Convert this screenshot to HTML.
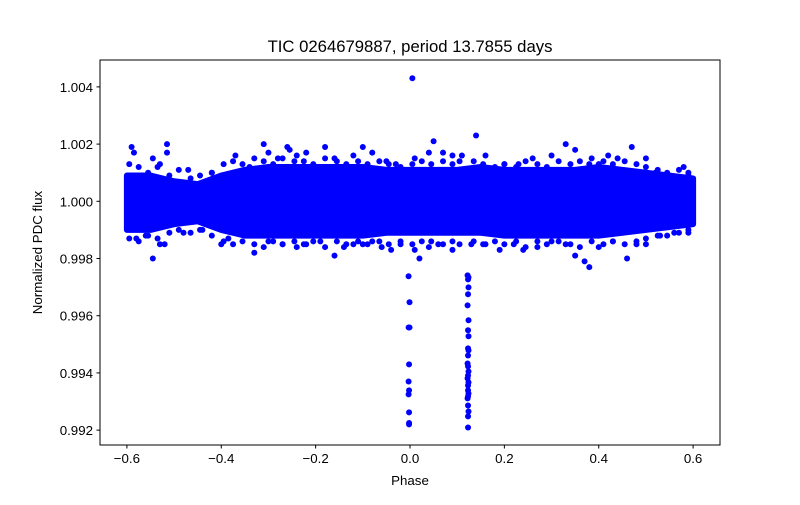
<!DOCTYPE html>
<html><head><meta charset="utf-8"><style>
body{margin:0;background:#fff;}
svg text{font-family:"Liberation Sans","DejaVu Sans",sans-serif;fill:#000;}
</style></head><body>
<svg id="chart" width="800" height="500" xmlns="http://www.w3.org/2000/svg">
<rect width="800" height="500" fill="#fff"/>
<g id="band"></g><g id="pts"></g><g id="axes"></g>
</svg>
<script>
const xTicks=[-0.6,-0.4,-0.2,0.0,0.2,0.4,0.6];
const xTickLabels=["\u22120.6","\u22120.4","\u22120.2","0.0","0.2","0.4","0.6"];
const yTicks=[0.992,0.994,0.996,0.998,1.000,1.002,1.004];
const yTickLabels=["0.992","0.994","0.996","0.998","1.000","1.002","1.004"];
const bandPhase=[-0.6,-0.55,-0.5,-0.45,-0.4,-0.35,-0.3,-0.25,-0.2,-0.15,-0.1,-0.05,0,0.05,0.1,0.15,0.2,0.25,0.3,0.35,0.4,0.45,0.5,0.55,0.6];
const bandUpper=[1.0009,1.0009,1.0007,1.0006,1.0009,1.0011,1.0012,1.0012,1.0012,1.0012,1.0012,1.0011,1.0011,1.0011,1.0011,1.0012,1.0011,1.0011,1.0011,1.0011,1.0012,1.0011,1.0010,1.0009,1.0008];
const bandLower=[0.9990,0.9990,0.9992,0.9993,0.9990,0.9988,0.9988,0.9988,0.9988,0.9988,0.9988,0.9989,0.9989,0.9989,0.9989,0.9989,0.9988,0.9988,0.9988,0.9988,0.9988,0.9989,0.9990,0.9991,0.9992];
const edgePhase=[-0.595,-0.575,-0.555,-0.535,-0.51,-0.49,-0.465,-0.445,-0.42,-0.395,-0.375,-0.355,-0.33,-0.31,-0.29,-0.27,-0.245,-0.225,-0.205,-0.18,-0.155,-0.135,-0.11,-0.09,-0.065,-0.045,-0.02,0.005,0.025,0.045,0.07,0.09,0.105,0.135,0.155,0.18,0.2,0.225,0.245,0.27,0.29,0.315,0.34,0.36,0.385,0.41,0.43,0.455,0.48,0.5,0.525,0.545,0.57,0.59,
-0.595,-0.575,-0.555,-0.535,-0.51,-0.49,-0.465,-0.445,-0.42,-0.395,-0.375,-0.355,-0.33,-0.31,-0.29,-0.27,-0.245,-0.225,-0.205,-0.18,-0.155,-0.135,-0.11,-0.09,-0.065,-0.045,-0.02,0.005,0.025,0.045,0.07,0.09,0.105,0.135,0.155,0.18,0.2,0.225,0.245,0.27,0.29,0.315,0.34,0.36,0.385,0.41,0.43,0.455,0.48,0.5,0.525,0.545,0.57,0.59];
const edgeFlux=[1.0013,1.0012,1.0010,1.0012,1.0009,1.0011,1.0008,1.0009,1.0010,1.0013,1.0014,1.0013,1.0015,1.0014,1.0013,1.0015,1.0014,1.0014,1.0013,1.0015,1.0014,1.0013,1.0014,1.0013,1.0014,1.0013,1.0012,1.0013,1.0014,1.0013,1.0014,1.0013,1.0014,1.0014,1.0013,1.0012,1.0013,1.0012,1.0014,1.0013,1.0012,1.0014,1.0013,1.0014,1.0015,1.0014,1.0013,1.0014,1.0013,1.0012,1.0011,1.0010,1.0011,1.0009,
0.9987,0.9986,0.9988,0.9987,0.9989,0.9990,0.9989,0.9990,0.9988,0.9986,0.9985,0.9986,0.9985,0.9984,0.9986,0.9985,0.9986,0.9985,0.9986,0.9984,0.9986,0.9985,0.9986,0.9985,0.9986,0.9985,0.9986,0.9985,0.9986,0.9986,0.9985,0.9986,0.9985,0.9986,0.9985,0.9986,0.9985,0.9986,0.9984,0.9986,0.9985,0.9986,0.9985,0.9984,0.9986,0.9985,0.9986,0.9985,0.9986,0.9987,0.9988,0.9988,0.9989,0.9989];
const outPhase=[-0.59,-0.585,-0.545,-0.53,-0.515,-0.515,-0.47,-0.42,-0.37,-0.34,-0.31,-0.30,-0.28,-0.26,-0.255,-0.24,-0.22,-0.18,-0.16,-0.12,-0.10,-0.08,-0.05,-0.03,0.01,0.04,0.05,0.07,0.09,0.11,0.14,0.16,0.20,0.23,0.26,0.30,0.33,0.35,0.38,0.40,0.42,0.44,0.47,0.50,0.52,0.55,0.58,0.59,0.005,
-0.58,-0.56,-0.545,-0.53,-0.52,-0.48,-0.44,-0.40,-0.385,-0.35,-0.33,-0.30,-0.27,-0.24,-0.22,-0.19,-0.16,-0.14,-0.12,-0.10,-0.08,-0.06,-0.04,-0.02,0.01,0.02,0.04,0.06,0.09,0.13,0.16,0.19,0.22,0.24,0.27,0.30,0.33,0.35,0.37,0.38,0.40,0.43,0.46,0.48,0.50,0.53,0.56,0.59];
const outFlux=[1.0019,1.0017,1.0015,1.0013,1.0020,1.0017,1.0011,1.0010,1.0016,1.0012,1.0020,1.0017,1.0015,1.0019,1.0018,1.0016,1.0017,1.0019,1.0015,1.0016,1.0019,1.0017,1.0014,1.0013,1.0015,1.0017,1.0021,1.0017,1.0016,1.0016,1.0023,1.0016,1.0013,1.0013,1.0015,1.0016,1.0020,1.0018,1.0013,1.0013,1.0016,1.0015,1.0019,1.0015,1.0010,1.0009,1.0012,1.0010,1.0043,
0.9987,0.9988,0.9980,0.9985,0.9985,0.9989,0.9990,0.9985,0.9987,0.9988,0.9982,0.9986,0.9985,0.9984,0.9985,0.9986,0.9981,0.9984,0.9985,0.9985,0.9986,0.9984,0.9983,0.9985,0.9983,0.9980,0.9984,0.9985,0.9983,0.9985,0.9985,0.9983,0.9985,0.9983,0.9984,0.9986,0.9985,0.9981,0.9979,0.9977,0.9984,0.9986,0.9980,0.9985,0.9985,0.9988,0.9989,0.9990];
const dip1Phase=[-0.003,-0.001,-0.003,-0.001,-0.002,-0.003,-0.002,-0.003,-0.002,-0.002,-0.002];
const dip1Flux=[0.99738,0.99647,0.99559,0.99559,0.99430,0.99370,0.99339,0.99325,0.99262,0.99220,0.99225];
const dip2Phase=[0.122,0.124,0.123,0.124,0.123,0.122,0.124,0.123,0.124,0.123,0.124,0.123,0.122,0.123,0.124,0.123,0.122,0.124,0.123,0.123,0.124,0.123,0.122,0.123,0.124,0.123,0.123];
const dip2Flux=[0.99741,0.99734,0.99727,0.99699,0.99675,0.99636,0.99584,0.99549,0.99528,0.99486,0.99479,0.99461,0.99433,0.99423,0.99405,0.99391,0.99381,0.99367,0.99356,0.99339,0.99328,0.99318,0.99311,0.99286,0.99265,0.99248,0.99209];

const L=100,R=720,T=60,B=445,xmin=-0.657,xmax=0.657,ymin=0.99148,ymax=1.00494;
const X=v=>L+(v-xmin)/(xmax-xmin)*(R-L);
const Y=v=>B-(v-ymin)/(ymax-ymin)*(B-T);
const NS="http://www.w3.org/2000/svg";
function mk(tag,attrs,parent){const e=document.createElementNS(NS,tag);for(const k in attrs)e.setAttribute(k,attrs[k]);parent.appendChild(e);return e;}
const band=document.getElementById('band'),pts=document.getElementById('pts'),ax=document.getElementById('axes');
let d="M"+bandPhase.map((p,i)=>X(p)+","+Y(bandUpper[i])).join(" L");
for(let i=bandPhase.length-1;i>=0;i--)d+=" L"+X(bandPhase[i])+","+Y(bandLower[i]);
d+=" Z";
const bp=mk('path',{d:d,fill:'#0000ff',stroke:'#0000ff','stroke-width':6,'stroke-linejoin':'round'},band);


function dots(ps,fs,name){for(let i=0;i<ps.length;i++){const c=mk('circle',{cx:X(ps[i]),cy:Y(fs[i]),r:3,fill:'#0000ff'},pts);

}}
dots(edgePhase,edgeFlux,'data-point');
dots(outPhase,outFlux,'data-point');
dots(dip1Phase,dip1Flux,'primary-dip-point');
dots(dip2Phase,dip2Flux,'secondary-dip-point');
const fr=mk('rect',{x:L,y:T,width:R-L,height:B-T,fill:'none',stroke:'#000','stroke-width':1},ax);


xTicks.forEach((v,i)=>{const x=X(v);mk('line',{x1:x,x2:x,y1:B,y2:B+3.5,stroke:'#000'},ax);
const t=mk('text',{x:x,y:B+18,'font-size':13.3,'text-anchor':'middle'},ax);t.textContent=xTickLabels[i];

});
yTicks.forEach((v,i)=>{const y=Y(v);mk('line',{x1:L-3.5,x2:L,y1:y,y2:y,stroke:'#000'},ax);
const t=mk('text',{x:L-7,y:y+5,'font-size':13.3,'text-anchor':'end'},ax);t.textContent=yTickLabels[i];

});
const xt=mk('text',{x:410,y:485,'font-size':13.3,'text-anchor':'middle'},ax);xt.textContent="Phase";


const yt=mk('text',{x:0,y:0,'font-size':13.3,'text-anchor':'middle',transform:'translate(42,252.5) rotate(-90)'},ax);yt.textContent="Normalized PDC flux";


const tt=mk('text',{x:410,y:52,'font-size':16.7,'text-anchor':'middle'},ax);tt.textContent="TIC 0264679887, period 13.7855 days";


</script>
</body></html>
